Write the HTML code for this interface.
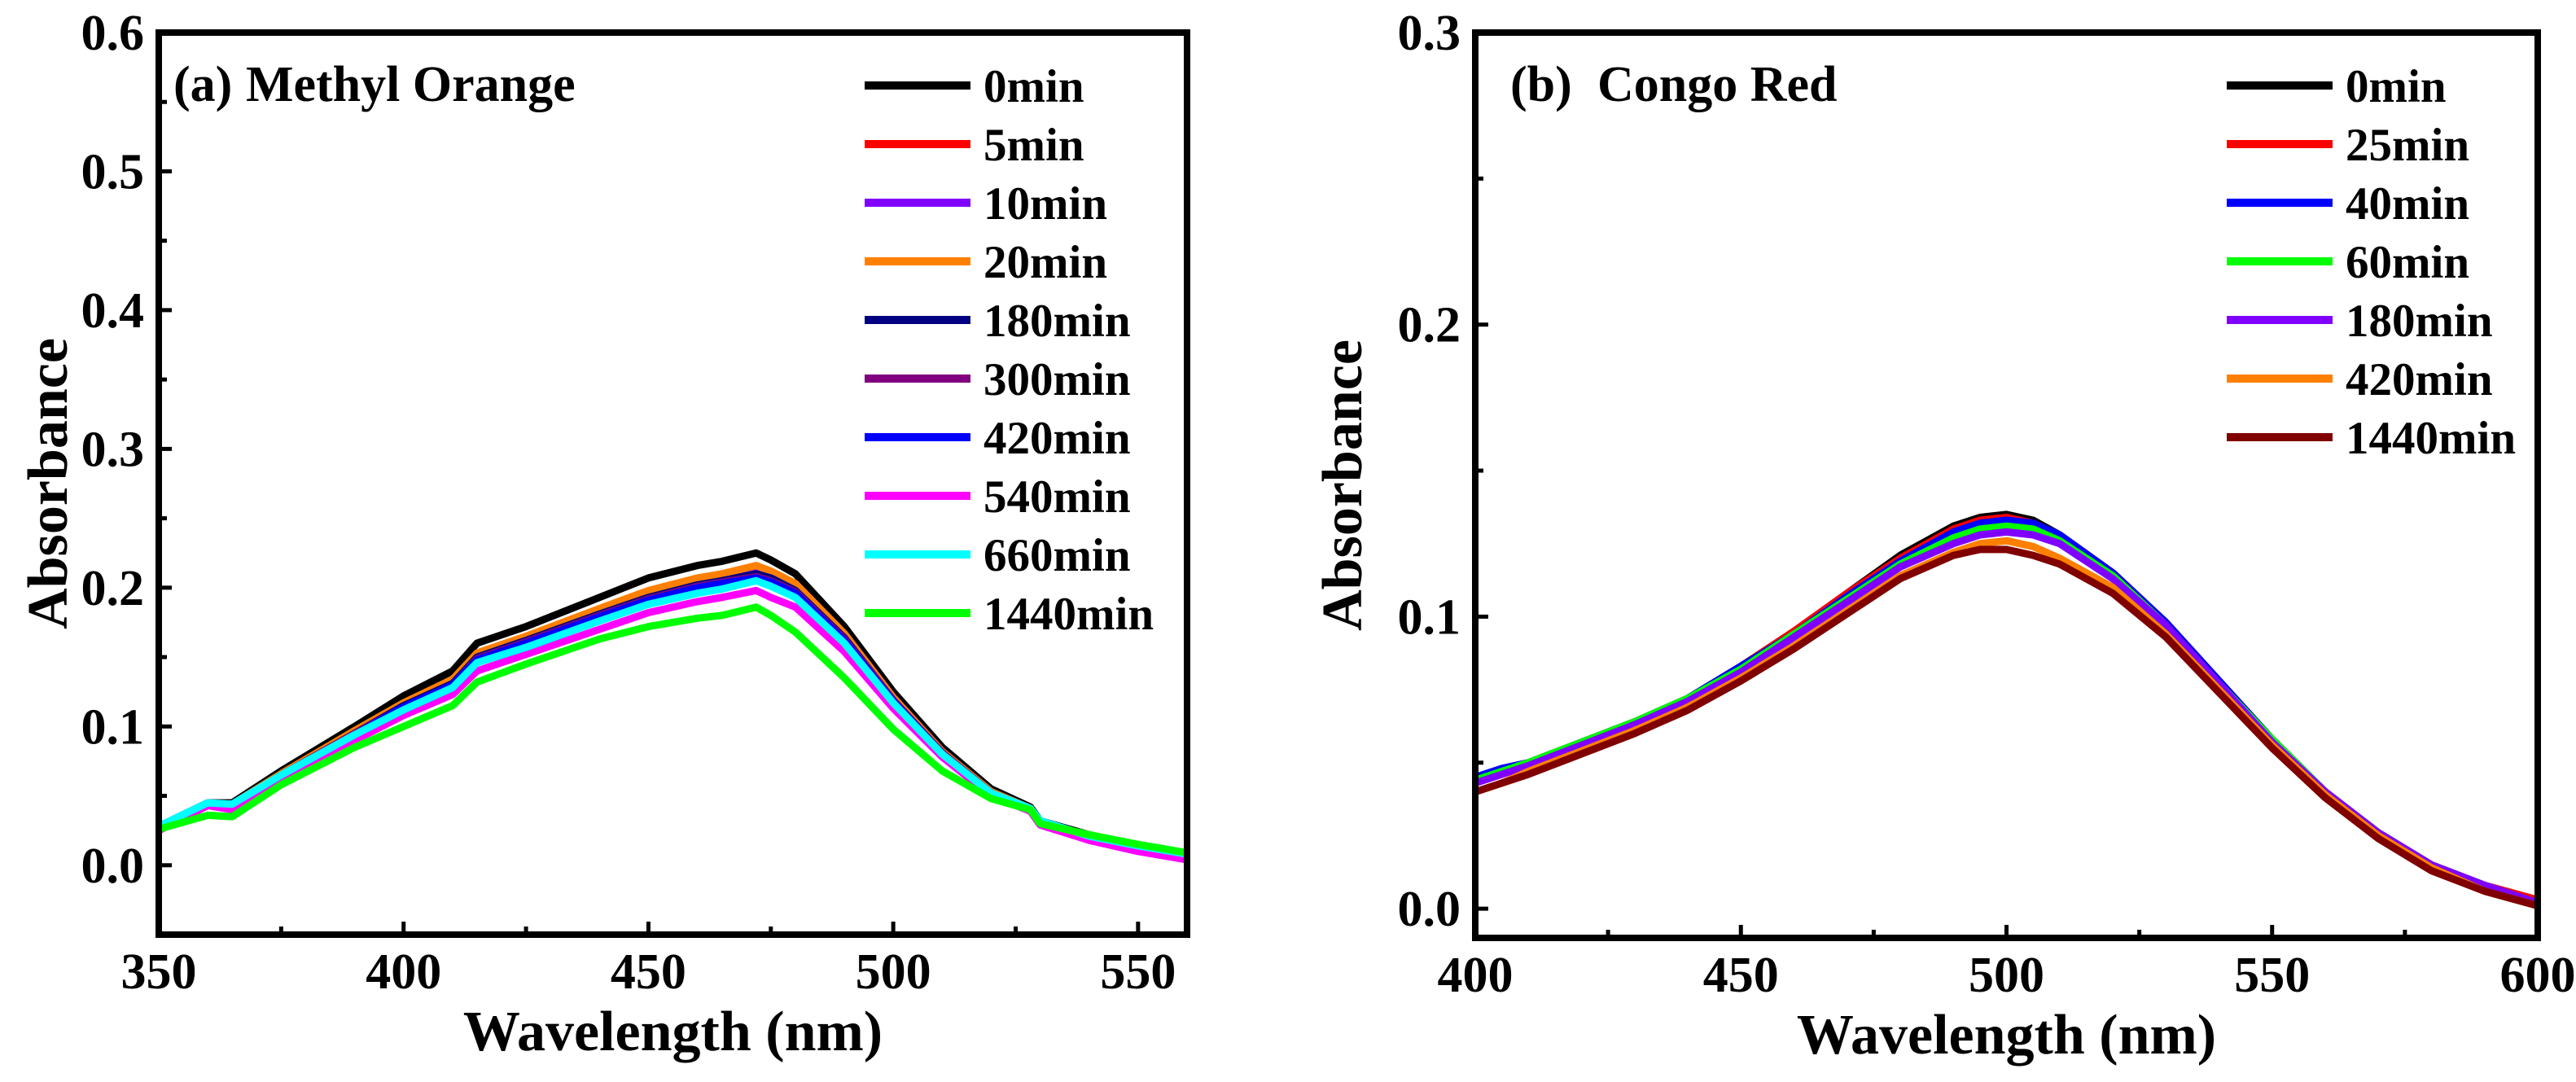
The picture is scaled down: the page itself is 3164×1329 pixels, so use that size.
<!DOCTYPE html>
<html><head><meta charset="utf-8"><style>
html,body{margin:0;padding:0;background:#fff;}
svg{display:block;font-family:"Liberation Serif",serif;font-weight:bold;}
</style></head><body>
<svg id="fig" width="3164" height="1329" viewBox="0 0 3164 1329" xmlns="http://www.w3.org/2000/svg">
<g id="pa"></g>
<g id="pb"></g>
</svg>
<script>
// ---------- Panel A data ----------
const wlA = [350,360,365,375,390,400,410,415,425,440,450,460,465,472,475,480,490,500,510,520,528,530,540,550,560];
const labelsA = ["0min","5min","10min","20min","180min","300min","420min","540min","660min","1440min"];
const colorsA = ["#000000","#ff0000","#8000ff","#ff8000","#000080","#800080","#0000ff","#ff00ff","#00ffff","#00ff00"];
const a0 =    [0.028,0.045,0.045,0.068,0.100,0.122,0.140,0.160,0.172,0.193,0.207,0.216,0.219,0.225,0.220,0.210,0.172,0.125,0.085,0.055,0.042,0.032,0.022,0.014,0.007];
const a5 =    [0.026,0.044,0.043,0.065,0.095,0.115,0.131,0.150,0.162,0.182,0.195,0.204,0.207,0.213,0.209,0.200,0.165,0.120,0.081,0.052,0.040,0.030,0.019,0.011,0.005];
const a10 =   [0.025,0.044,0.043,0.065,0.095,0.115,0.131,0.150,0.162,0.181,0.194,0.203,0.206,0.212,0.208,0.199,0.164,0.119,0.081,0.052,0.040,0.030,0.018,0.010,0.004];
const a20 =   [0.027,0.044,0.044,0.066,0.097,0.117,0.134,0.153,0.165,0.185,0.198,0.207,0.210,0.216,0.212,0.203,0.167,0.121,0.082,0.053,0.041,0.031,0.020,0.012,0.006];
const a180 =  [0.027,0.044,0.043,0.065,0.095,0.115,0.131,0.150,0.162,0.181,0.193,0.202,0.205,0.210,0.207,0.198,0.164,0.119,0.081,0.052,0.040,0.030,0.019,0.011,0.005];
const a300 =  [0.027,0.044,0.043,0.065,0.095,0.114,0.130,0.149,0.161,0.180,0.192,0.201,0.204,0.208,0.205,0.197,0.163,0.119,0.081,0.052,0.040,0.030,0.019,0.011,0.005];
const a420 =  [0.027,0.044,0.043,0.065,0.094,0.114,0.130,0.148,0.160,0.179,0.191,0.200,0.203,0.207,0.204,0.196,0.162,0.118,0.080,0.052,0.040,0.030,0.019,0.011,0.005];
const a540 =  [0.025,0.043,0.040,0.062,0.090,0.108,0.123,0.140,0.152,0.170,0.182,0.190,0.193,0.198,0.193,0.186,0.154,0.113,0.078,0.050,0.039,0.029,0.018,0.010,0.004];
const a660 =  [0.028,0.045,0.044,0.065,0.094,0.112,0.128,0.146,0.157,0.176,0.188,0.196,0.199,0.205,0.201,0.193,0.160,0.117,0.080,0.052,0.041,0.032,0.021,0.014,0.008];
const a1440 = [0.026,0.036,0.035,0.058,0.085,0.100,0.115,0.132,0.145,0.163,0.172,0.178,0.180,0.186,0.180,0.168,0.135,0.098,0.068,0.048,0.040,0.030,0.022,0.015,0.009];
const seriesA = [a0,a5,a10,a20,a180,a300,a420,a540,a660,a1440];
const xTicksA = [350,400,450,500,550];
const yTicksA = [0.0,0.1,0.2,0.3,0.4,0.5,0.6];
const yTickLabelsA = ["0.0","0.1","0.2","0.3","0.4","0.5","0.6"];

// ---------- Panel B data ----------
const wlB = [400,405,410,420,430,440,450,460,470,480,490,495,500,505,510,520,530,540,550,560,570,580,590,600];
const labelsB = ["0min","25min","40min","60min","180min","420min","1440min"];
const colorsB = ["#000000","#ff0000","#0000ff","#00ff00","#8000ff","#ff8000","#800000"];
const b0 =    [0.044,0.047,0.050,0.057,0.064,0.072,0.083,0.095,0.108,0.121,0.131,0.134,0.135,0.133,0.128,0.115,0.098,0.078,0.058,0.040,0.026,0.015,0.008,0.002];
const b25 =   [0.044,0.047,0.050,0.057,0.064,0.072,0.083,0.095,0.108,0.120,0.130,0.133,0.134,0.132,0.128,0.115,0.098,0.078,0.058,0.040,0.026,0.015,0.008,0.003];
const b40 =   [0.045,0.048,0.050,0.057,0.064,0.072,0.083,0.094,0.107,0.119,0.129,0.132,0.133,0.132,0.128,0.115,0.098,0.078,0.058,0.040,0.026,0.015,0.007,0.001];
const b60 =   [0.044,0.047,0.050,0.057,0.064,0.072,0.082,0.094,0.106,0.118,0.127,0.130,0.131,0.130,0.126,0.114,0.097,0.077,0.058,0.040,0.026,0.015,0.008,0.002];
const b180 =  [0.043,0.046,0.049,0.056,0.063,0.071,0.081,0.093,0.105,0.117,0.125,0.128,0.129,0.128,0.125,0.113,0.097,0.077,0.057,0.040,0.026,0.015,0.008,0.002];
const b420 =  [0.040,0.043,0.047,0.054,0.061,0.069,0.079,0.090,0.102,0.114,0.122,0.125,0.126,0.124,0.120,0.110,0.094,0.075,0.056,0.039,0.025,0.014,0.006,0.001];
const b1440 = [0.040,0.043,0.046,0.053,0.060,0.068,0.078,0.089,0.101,0.113,0.121,0.123,0.123,0.121,0.118,0.108,0.093,0.074,0.055,0.038,0.024,0.013,0.006,0.001];
const seriesB = [b0,b25,b40,b60,b180,b420,b1440];
const xTicksB = [400,450,500,550,600];
const yTicksB = [0.0,0.1,0.2,0.3];
const yTickLabelsB = ["0.0","0.1","0.2","0.3"];

const NS = "http://www.w3.org/2000/svg";
function mk(parent, tag, attrs, text){
  const e = document.createElementNS(NS, tag);
  for (const k in attrs) e.setAttribute(k, attrs[k]);
  if (text !== undefined) e.textContent = text;
  parent.appendChild(e);
  return e;
}

function drawPanel(g, cfg){
  const {x0,x1,xmin,xmax,yTop,yBot,ymin,ymax} = cfg;
  const sx = v => x0 + (v - xmin) / (xmax - xmin) * (x1 - x0);
  const sy = v => yBot - (v - ymin) / (ymax - ymin) * (yBot - yTop);
  cfg.series.forEach((s, i) => {
    let d = "";
    s.forEach((v, j) => { d += (j ? "L" : "M") + sx(cfg.wl[j]).toFixed(1) + " " + sy(v).toFixed(1); });
    const p = mk(g, "path", {d: d, fill: "none", stroke: cfg.colors[i], "stroke-width": 9, "stroke-linejoin": "round"});
    
    
  });
  const fr = mk(g, "rect", {x: x0, y: yTop, width: x1 - x0, height: yBot - yTop, fill: "none", stroke: "#000", "stroke-width": 8});
  
  
  cfg.xTicks.forEach((t, i) => {
    const x = sx(t);
    const tk = mk(g, "line", {x1: x, x2: x, y1: yBot, y2: yBot - 16, stroke: "#000", "stroke-width": 5});
    
    
    const mt = t + cfg.xMinorStep;
    if (mt < xmax) {
      const mx = sx(mt);
      const m = mk(g, "line", {x1: mx, x2: mx, y1: yBot, y2: yBot - 10, stroke: "#000", "stroke-width": 5});
      
      
    }
    const lb = mk(g, "text", {x: x, y: yBot + 66, "font-size": 62, "text-anchor": "middle"}, String(t));
    
    
  });
  cfg.yTicks.forEach((t, i) => {
    const y = sy(t);
    const tk = mk(g, "line", {x1: x0, x2: x0 + 16, y1: y, y2: y, stroke: "#000", "stroke-width": 5});
    
    
    const mt = t + cfg.yMinorStep;
    if (mt < ymax) {
      const my = sy(mt);
      const m = mk(g, "line", {x1: x0, x2: x0 + 10, y1: my, y2: my, stroke: "#000", "stroke-width": 5});
      
      
    }
    const lb = mk(g, "text", {x: x0 - 18, y: y + 21, "font-size": 62, "text-anchor": "end"}, cfg.yTickLabels[i]);
    
    
  });
  const xt = mk(g, "text", {x: (x0 + x1) / 2, y: yBot + 142, "font-size": 70, "text-anchor": "middle"}, "Wavelength (nm)");
  
  
  const ycx = cfg.yTitleX, ycy = (yTop + yBot) / 2;
  const yt = mk(g, "text", {x: ycx, y: ycy, "font-size": 70, "text-anchor": "middle", transform: "rotate(-90 " + ycx + " " + ycy + ")"}, "Absorbance");
  
  
  cfg.titles.forEach(tt => {
    const pt = mk(g, "text", {x: tt[1], y: 124, "font-size": 62}, tt[0]);
    
    
  });
  cfg.labels.forEach((lab, i) => {
    const y = 105 + i * 72;
    const lg = mk(g, "g", {});
    
    
    mk(lg, "line", {x1: cfg.legX, x2: cfg.legX + 130, y1: y, y2: y, stroke: cfg.colors[i], "stroke-width": 10});
    mk(lg, "text", {x: cfg.legX + 146, y: y + 20, "font-size": 57}, lab);
  });
}

drawPanel(document.getElementById("pa"), {
  x0: 195, x1: 1458, xmin: 350, xmax: 560, yTop: 40, yBot: 1148, ymin: -0.05, ymax: 0.6,
  wl: wlA, series: seriesA, colors: colorsA, labels: labelsA,
  xTicks: xTicksA, yTicks: yTicksA, yTickLabels: yTickLabelsA, xMinorStep: 25, yMinorStep: 0.05,
  yTitleX: 82, titles: [["(a)", 213], ["Methyl Orange", 302]], legX: 1062
});
drawPanel(document.getElementById("pb"), {
  x0: 1812, x1: 3117, xmin: 400, xmax: 600, yTop: 40, yBot: 1152, ymin: -0.01, ymax: 0.3,
  wl: wlB, series: seriesB, colors: colorsB, labels: labelsB,
  xTicks: xTicksB, yTicks: yTicksB, yTickLabels: yTickLabelsB, xMinorStep: 25, yMinorStep: 0.05,
  yTitleX: 1672, titles: [["(b)", 1855], ["Congo Red", 1962]], legX: 2735
});
</script>
</body></html>
